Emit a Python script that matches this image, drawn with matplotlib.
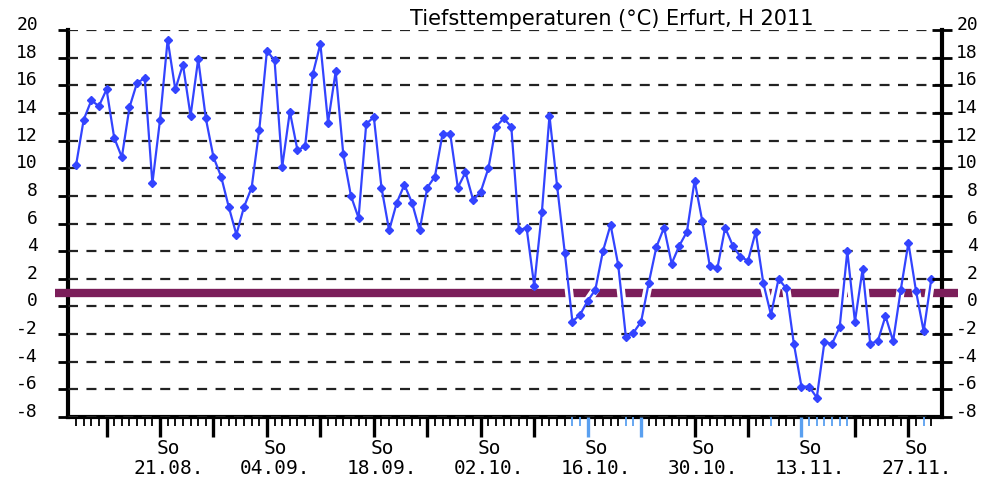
import matplotlib
matplotlib.use('Agg')
import matplotlib.pyplot as plt
import matplotlib.dates as mdates
from matplotlib.ticker import FixedLocator
from matplotlib.transforms import ScaledTranslation, blended_transform_factory
import pandas as pd

plt.rcParams['axes.unicode_minus'] = False

# daily minimum temperatures, Erfurt, 10.08. - 30.11.2011
start = '2011-08-10'
tmin = [10.2, 13.5, 14.9, 14.5, 15.7, 12.2, 10.8, 14.4, 16.2, 16.5,
        8.9, 13.5, 19.3, 15.7, 17.5, 13.8, 17.9, 13.6, 10.8, 9.4,
        7.2, 5.2, 7.2, 8.6, 12.8, 18.5, 17.8, 10.1, 14.1, 11.3,
        11.6, 16.8, 19.0, 13.3, 17.0, 11.0, 8.0, 6.4, 13.2, 13.7,
        8.6, 5.5, 7.5, 8.8, 7.5, 5.5, 8.6, 9.4, 12.5, 12.5,
        8.6, 9.7, 7.7, 8.3, 10.0, 13.0, 13.6, 13.0, 5.5, 5.7,
        1.5, 6.8, 13.8, 8.7, 3.9, -1.1, -0.6, 0.4, 1.2, 4.0,
        5.9, 3.0, -2.2, -1.9, -1.1, 1.7, 4.3, 5.7, 3.1, 4.4,
        5.4, 9.1, 6.2, 2.9, 2.8, 5.7, 4.4, 3.6, 3.3, 5.4,
        1.7, -0.6, 2.0, 1.3, -2.7, -5.8, -5.8, -6.6, -2.6, -2.7,
        -1.5, 4.0, -1.1, 2.7, -2.7, -2.5, -0.7, -2.5, 1.2, 4.6,
        1.1, -1.8, 2.0]

# days with blue tick marks on the time axis
blue_days = ['2011-10-14', '2011-10-15', '2011-10-16', '2011-10-21',
             '2011-10-22', '2011-10-23', '2011-11-09', '2011-11-13',
             '2011-11-14', '2011-11-15', '2011-11-16', '2011-11-17',
             '2011-11-18', '2011-11-19', '2011-11-29']

label_days = ['2011-08-21', '2011-09-04', '2011-09-18', '2011-10-02',
              '2011-10-16', '2011-10-30', '2011-11-13', '2011-11-27']

ref_line = 1.0
yticks = list(range(-8, 21, 2))

dates = pd.date_range(start, periods=len(tmin), freq='D')
x = mdates.date2num(dates)
sundays = x[dates.dayofweek == 6]
blue_x = set(float(v) for v in mdates.date2num(pd.to_datetime(blue_days)))

fig = plt.figure(figsize=(9.94, 4.8), dpi=100)
ax = fig.add_axes([68/994, 63/480, 874/994, 387/480])
ax.set_xlim(x[0] - 1.05, x[0] + 113.4)
ax.set_ylim(-8, 20)

# purple reference bar, runs a bit past both spines
tr = blended_transform_factory(ax.transAxes, ax.transData)
ax.plot([-0.015, 1.018], [ref_line, ref_line], transform=tr, color='#7b1e5a',
        lw=6, solid_capstyle='butt', clip_on=False, zorder=2.0)

# white halo under the data line cuts the purple bar where they cross
ax.plot(x, tmin, color='white', lw=6, zorder=2.2)
ax.plot(x, tmin, color='#3344ff', lw=1.6, marker='D', ms=4, zorder=3, clip_on=False)

ax.set_axisbelow(False)
ax.set_yticks(yticks)
ax.yaxis.grid(True, linestyle=(0, (4.5, 3.8)), color='#222222', lw=1.6)

ax.spines['top'].set_visible(False)
for s in ['left', 'right', 'bottom']:
    ax.spines[s].set_linewidth(3)
    ax.spines[s].set_zorder(1.9)

mono = 'DejaVu Sans Mono'
ax.tick_params(axis='y', direction='out', length=7.2, width=2, pad=14.4,
               labelsize=13)

ax2 = ax.twinx()
ax2.set_ylim(-8, 20)
ax2.set_yticks(yticks)
for s in ax2.spines.values():
    s.set_visible(False)
ax2.tick_params(axis='y', direction='inout', length=14.4, width=2, pad=18.7,
                labelsize=13)

up = ScaledTranslation(0, 7/100, fig.dpi_scale_trans)
for lab in ax.get_yticklabels():
    lab.set_family(mono)
    lab.set_transform(lab.get_transform() + up)
for lab in ax2.get_yticklabels():
    lab.set_family(mono)
    lab.set_ha('right')
    lab.set_transform(lab.get_transform() + up)

# time axis: daily minor ticks, long ticks on Sundays
ax.xaxis.set_major_locator(FixedLocator(sundays))
ax.xaxis.set_minor_locator(FixedLocator(x))
ax.tick_params(axis='x', which='major', length=14.4, width=2.4, labelbottom=False)
ax.tick_params(axis='x', which='minor', length=6.5, width=1.3)

for tick, loc in zip(ax.xaxis.get_major_ticks(), ax.xaxis.get_majorticklocs()):
    if float(loc) in blue_x:
        tick.tick1line.set_markeredgecolor('#5aa0f0')
for tick, loc in zip(ax.xaxis.get_minor_ticks(), ax.xaxis.get_minorticklocs()):
    if float(loc) in blue_x:
        tick.tick1line.set_markeredgecolor('#5aa0f0')

for d in pd.to_datetime(label_days):
    xd = mdates.date2num(d) + 1.1
    ax.annotate('So', (xd, 0), xycoords=('data', 'axes fraction'),
                xytext=(0, -23), textcoords='offset points', ha='center',
                va='center', fontsize=14, family=mono, annotation_clip=False)
    ax.annotate(d.strftime('%d.%m.'), (xd, 0), xycoords=('data', 'axes fraction'),
                xytext=(0, -37), textcoords='offset points', ha='center',
                va='center', fontsize=14, family=mono, annotation_clip=False)

fig.text(0.615, 1 - 19/480, 'Tiefsttemperaturen (°C) Erfurt, H 2011',
         ha='center', va='center', fontsize=15, family='DejaVu Sans')

fig.savefig('out.png', dpi=100)
